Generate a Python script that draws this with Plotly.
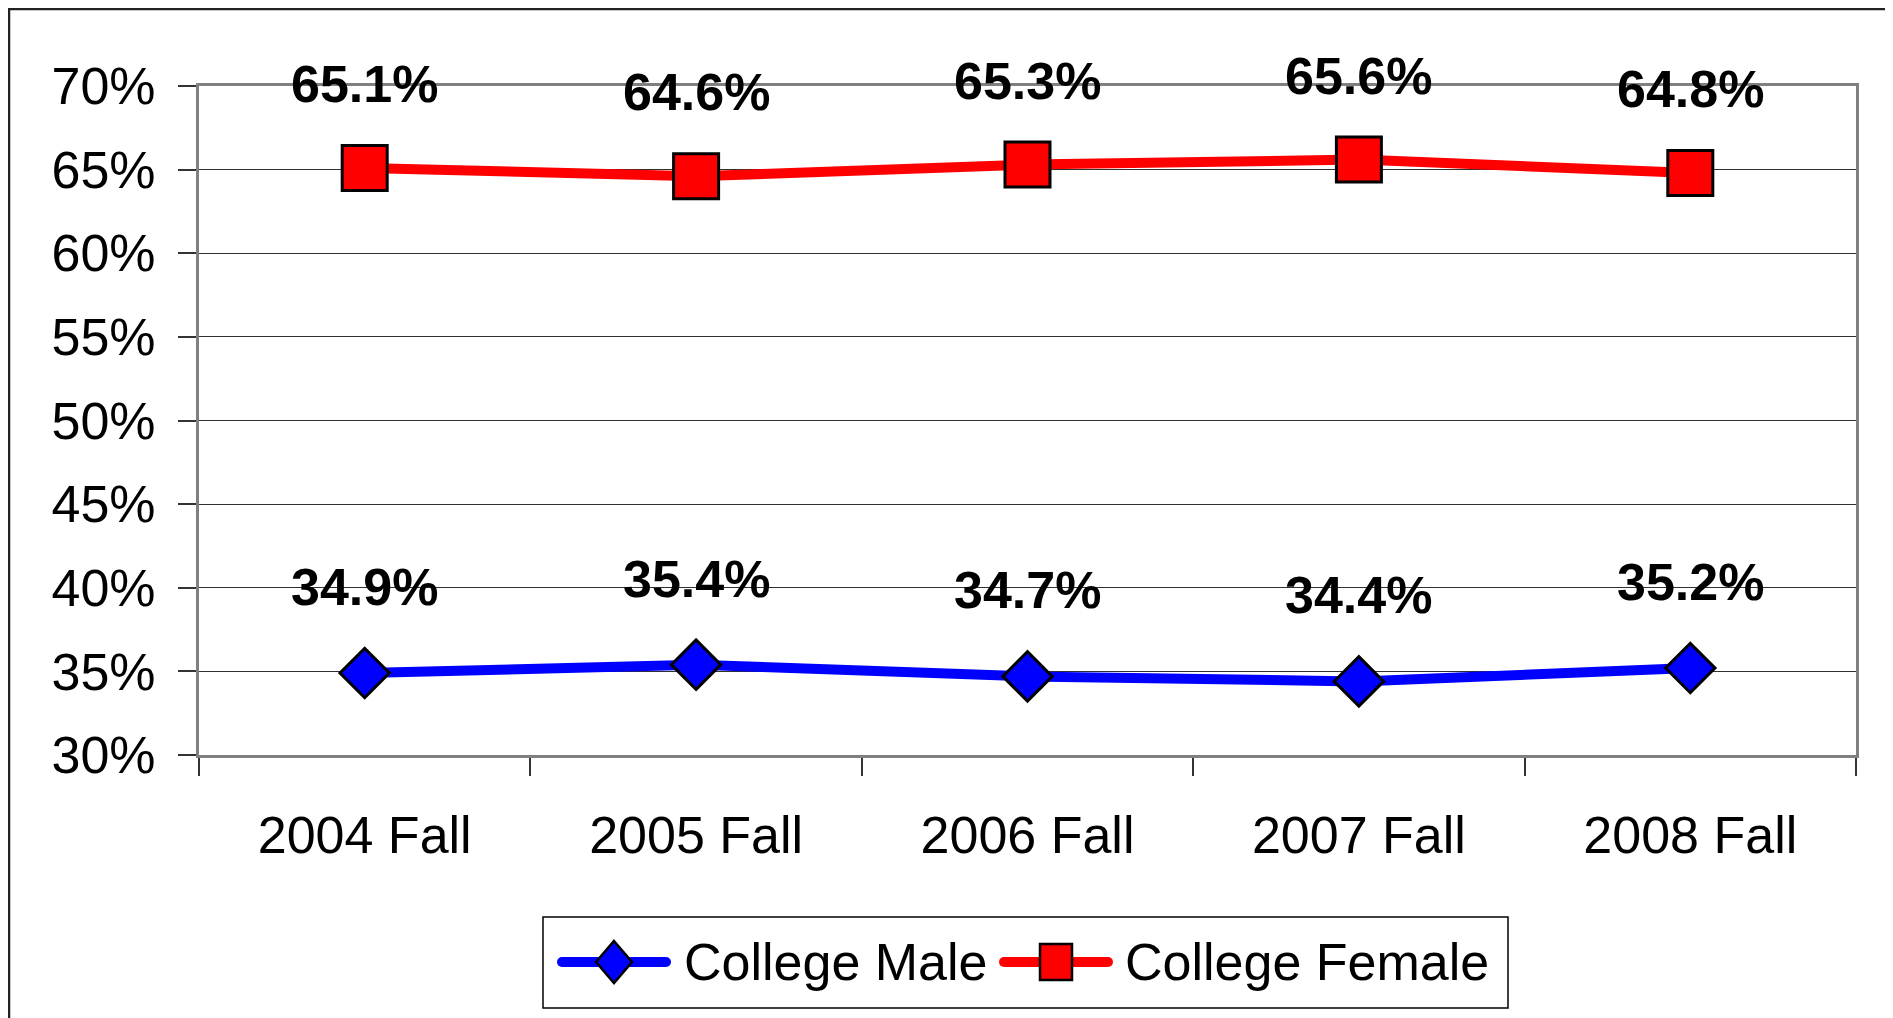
import plotly.graph_objects as go

categories = ["2004 Fall", "2005 Fall", "2006 Fall", "2007 Fall", "2008 Fall"]
male = [34.9, 35.4, 34.7, 34.4, 35.2]
female = [65.1, 64.6, 65.3, 65.6, 64.8]
y_ticks = [30, 35, 40, 45, 50, 55, 60, 65, 70]
series_names = ["College Male", "College Female"]

FONT = "Liberation Sans, Arial, sans-serif"
FS = 52
BLUE, RED = "#0000FF", "#FF0000"

# plot-area placement in page pixels (page has an 8px body offset)
OFF = 8
L, R, T, B = 199, 1856, 86, 755
W, H = 1893 - OFF, 1018 - OFF


def px(x):
    return (x - L) / (R - L)


def py(y):
    return (B - y) / (B - T)


fig = go.Figure()
fig.add_trace(go.Scatter(
    x=categories, y=male, mode="lines+markers", name=series_names[0],
    line=dict(color=BLUE, width=10),
    marker=dict(symbol="diamond", size=38, color=BLUE,
                line=dict(color="black", width=3)),
    cliponaxis=False, showlegend=False,
))
fig.add_trace(go.Scatter(
    x=categories, y=female, mode="lines+markers", name=series_names[1],
    line=dict(color=RED, width=10),
    marker=dict(symbol="square", size=45, color=RED,
                line=dict(color="black", width=3)),
    cliponaxis=False, showlegend=False,
))

for series, shift in ((male, 86), (female, 84)):
    for c, v in zip(categories, series):
        fig.add_annotation(x=c, y=v, text=f"<b>{v:.1f}%</b>", showarrow=False,
                           yshift=shift, yanchor="middle",
                           font=dict(family=FONT, size=FS, color="black"))

shapes = []
# outer chart border (bottom edge lies outside the visible page)
shapes.append(dict(type="rect", xref="paper", yref="paper",
                   x0=px(9), x1=px(1889), y0=py(1040), y1=py(9),
                   line=dict(color="#222222", width=2.5), layer="below"))

# legend box
ly = 962
shapes.append(dict(type="rect", xref="paper", yref="paper",
                   x0=px(543), x1=px(1508), y0=py(1008), y1=py(917),
                   line=dict(color="black", width=1.5), fillcolor="white", layer="below"))
# legend: male line + diamond
shapes.append(dict(type="line", xref="paper", yref="paper",
                   x0=px(562), x1=px(666), y0=py(ly), y1=py(ly),
                   line=dict(color=BLUE, width=10)))
for cx in (562, 666):
    shapes.append(dict(type="circle", xref="paper", yref="paper",
                       xsizemode="pixel", ysizemode="pixel",
                       xanchor=px(cx), yanchor=py(ly), x0=-5, x1=5, y0=-5, y1=5,
                       fillcolor=BLUE, line=dict(width=0)))
shapes.append(dict(type="path", xref="paper", yref="paper",
                   xsizemode="pixel", ysizemode="pixel",
                   xanchor=px(614), yanchor=py(ly),
                   path="M 0 21 L 18 0 L 0 -21 L -18 0 Z",
                   fillcolor=BLUE, line=dict(color="black", width=2.5)))
# legend: female line + square
shapes.append(dict(type="line", xref="paper", yref="paper",
                   x0=px(1004), x1=px(1108), y0=py(ly), y1=py(ly),
                   line=dict(color=RED, width=10)))
for cx in (1004, 1108):
    shapes.append(dict(type="circle", xref="paper", yref="paper",
                       xsizemode="pixel", ysizemode="pixel",
                       xanchor=px(cx), yanchor=py(ly), x0=-5, x1=5, y0=-5, y1=5,
                       fillcolor=RED, line=dict(width=0)))
shapes.append(dict(type="path", xref="paper", yref="paper",
                   xsizemode="pixel", ysizemode="pixel",
                   xanchor=px(1056), yanchor=py(ly),
                   path="M -16 18 L 16 18 L 16 -18 L -16 -18 Z",
                   fillcolor=RED, line=dict(color="black", width=2.5)))

fig.add_annotation(xref="paper", yref="paper", x=px(682), y=py(ly),
                   text=series_names[0], showarrow=False,
                   xanchor="left", yanchor="middle",
                   font=dict(family=FONT, size=FS, color="black"))
fig.add_annotation(xref="paper", yref="paper", x=px(1123), y=py(ly),
                   text=series_names[1], showarrow=False,
                   xanchor="left", yanchor="middle",
                   font=dict(family=FONT, size=FS, color="black"))

fig.update_layout(
    width=W, height=H,
    margin=dict(l=L - OFF, r=1893 - R, t=T - OFF, b=1018 - B),
    paper_bgcolor="white", plot_bgcolor="white",
    font=dict(family=FONT, size=FS, color="black"),
    showlegend=False,
    shapes=shapes,
    xaxis=dict(
        type="category", range=[-0.5, 4.5], tickson="boundaries",
        ticks="outside", ticklen=18, tickcolor="#333333", tickwidth=1.5,
        showgrid=False, showline=True, linecolor="#808080", linewidth=3, mirror=True,
        ticklabelstandoff=33, tickfont=dict(family=FONT, size=FS),
    ),
    yaxis=dict(
        range=[30, 70], tickmode="array", tickvals=y_ticks,
        ticktext=[f"{v}%" for v in y_ticks],
        ticks="outside", ticklen=18, tickcolor="#333333", tickwidth=1.5,
        showgrid=True, gridcolor="#303030", gridwidth=1,
        showline=True, linecolor="#808080", linewidth=3, mirror=True,
        zeroline=False, ticklabelstandoff=12, tickfont=dict(family=FONT, size=FS),
    ),
)

fig.write_html("out.html")
